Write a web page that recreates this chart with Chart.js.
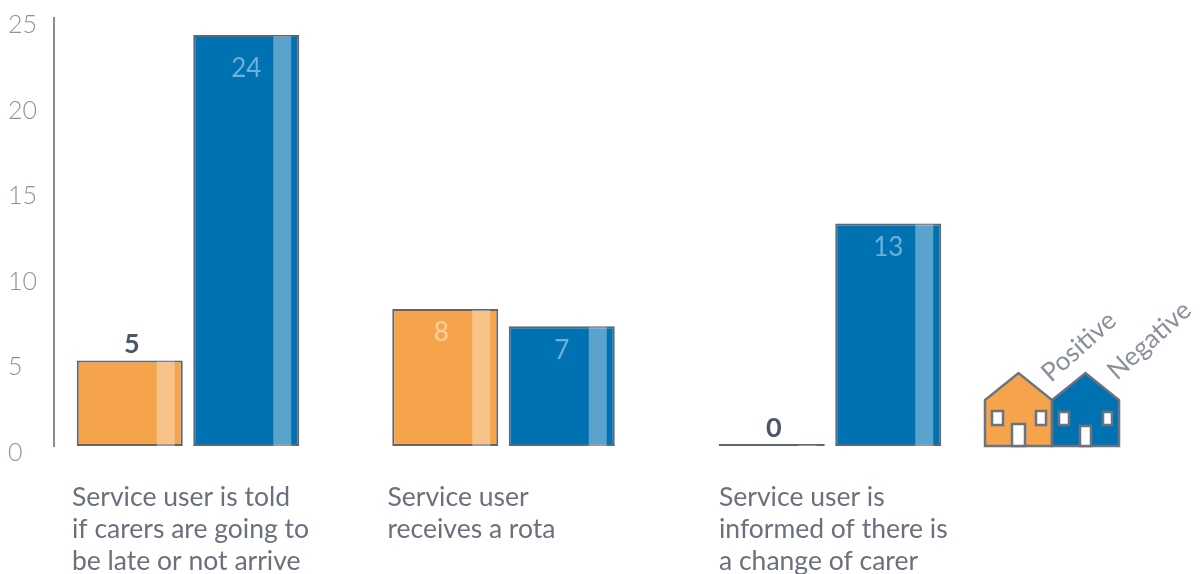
<!DOCTYPE html>
<html>
<head>
<meta charset="utf-8">
<title>Service user communication</title>
<script src="https://cdn.jsdelivr.net/npm/chart.js@4"></script>
<style>
    html, body { margin: 0; padding: 0; background: #fff; }
    #wrap { position: relative; width: 1200px; height: 574px; }
</style>
</head>
<body>
<div id="wrap"><canvas id="grafico"></canvas></div>
<script>
const categorias = [
    ['Service user is told', 'if carers are going to', 'be late or not arrive'],
    ['Service user', 'receives a rota'],
    ['Service user is', 'informed of there is', 'a change of carer']
];
const positivo = [5, 8, 0];
const negativo = [24, 7, 13];
const ticksY = [0, 5, 10, 15, 20, 25];

const LARANJA = '#f5a44b';
const AZUL = '#0072b2';
const CONTORNO = '#5e6675';
const FONTE = 'Lato';

// the groups in the original are not evenly spaced
const deslocGrupo = [-26.5, -32, -26.5];
const deslocTexto = [-5, -5, 0];

class CategoriaAjustada extends Chart.CategoryScale {
    static id = 'categoriaAjustada';
    static defaults = Chart.CategoryScale.defaults;
    getPixelForValue(value, index) {
        return super.getPixelForValue(value, index) + (deslocGrupo[value] || 0);
    }
    getPixelForTick(index) {
        return super.getPixelForTick(index) + deslocTexto[index];
    }
}
Chart.register(CategoriaAjustada);

// light stripe near the right side of each bar
const faixas = {
    id: 'faixas',
    afterDatasetsDraw(chart) {
        const ctx = chart.ctx;
        chart.data.datasets.forEach((ds, d) => {
            chart.getDatasetMeta(d).data.forEach(bar => {
                const esq = bar.x - bar.width / 2;
                ctx.fillStyle = 'rgba(255,255,255,0.35)';
                ctx.fillRect(esq + 80, bar.y + 1, 18, bar.base - bar.y - 1);
            });
        });
    }
};

// value above small bars, inside the bigger ones
const valores = {
    id: 'valores',
    afterDatasetsDraw(chart) {
        const ctx = chart.ctx;
        ctx.save();
        ctx.textAlign = 'center';
        ctx.textBaseline = 'middle';
        const claro = ['#fbd0a0', '#6fb0d8'];
        chart.data.datasets.forEach((ds, d) => {
            chart.getDatasetMeta(d).data.forEach((bar, i) => {
                const v = ds.data[i];
                if (d === 0 && v <= 5) {
                    ctx.font = '700 27px ' + FONTE;
                    ctx.fillStyle = '#4b566b';
                    ctx.fillText(String(v), bar.x + 2, bar.y - 16);
                } else {
                    ctx.font = '400 26px ' + FONTE;
                    ctx.fillStyle = claro[d];
                    ctx.fillText(String(v), bar.x + (d === 0 ? -4 : 0), bar.y + 24 + (v > 20 ? 9 : 0));
                }
            });
        });
        ctx.restore();
    }
};

function desenharCasa(ctx, x, base, cor, janelas, porta) {
    ctx.beginPath();
    ctx.moveTo(x, base);
    ctx.lineTo(x, base - 46);
    ctx.lineTo(x + 33.5, base - 73);
    ctx.lineTo(x + 67, base - 46);
    ctx.lineTo(x + 67, base);
    ctx.closePath();
    ctx.fillStyle = cor;
    ctx.fill();
    ctx.strokeStyle = '#6b7280';
    ctx.lineWidth = 2.5;
    ctx.stroke();
    ctx.fillStyle = '#fff';
    janelas.concat([porta]).forEach(r => {
        ctx.fillRect(x + r[0], base - r[1], r[2], r[3]);
        ctx.strokeRect(x + r[0], base - r[1], r[2], r[3]);
    });
}

// little houses used as legend
const legendaCasas = {
    id: 'legendaCasas',
    afterDraw(chart) {
        const ctx = chart.ctx;
        const base = chart.scales.y.getPixelForValue(0);
        ctx.save();
        desenharCasa(ctx, 985, base, LARANJA, [[7, 35, 11, 14], [51, 35, 10, 14]], [27, 22, 13, 22]);
        desenharCasa(ctx, 1052, base, AZUL, [[7, 34, 10, 13], [51, 34, 9, 13]], [28, 20, 11, 20]);
        ctx.font = '400 26px ' + FONTE;
        ctx.fillStyle = '#8a919b';
        ctx.textAlign = 'left';
        ctx.textBaseline = 'alphabetic';
        [['Positive', 1051, 383], ['Negative', 1117, 381]].forEach(t => {
            ctx.save();
            ctx.translate(t[1], t[2]);
            ctx.rotate(-42 * Math.PI / 180);
            ctx.fillText(t[0], 0, 0);
            ctx.restore();
        });
        ctx.restore();
    }
};

const estiloBarra = {
    borderColor: CONTORNO,
    borderWidth: 2,
    borderSkipped: false,
    minBarLength: 2,
    categoryPercentage: 0.7385,
    barPercentage: 0.91
};

new Chart(document.getElementById('grafico').getContext('2d'), {
    type: 'bar',
    data: {
        labels: categorias,
        datasets: [
            Object.assign({ label: 'Positive', data: positivo, backgroundColor: LARANJA }, estiloBarra),
            Object.assign({ label: 'Negative', data: negativo, backgroundColor: AZUL }, estiloBarra)
        ]
    },
    options: {
        responsive: true,
        maintainAspectRatio: false,
        animation: false,
        layout: { padding: { left: 8, top: 17.5, right: 183, bottom: 0 } },
        plugins: { legend: { display: false }, tooltip: { enabled: false } },
        scales: {
            x: {
                type: 'categoriaAjustada',
                grid: { display: false },
                border: { display: false },
                afterFit(scale) { scale.height = 128; },
                ticks: {
                    align: 'start',
                    labelOffset: -111,
                    maxRotation: 0,
                    autoSkip: false,
                    padding: 27,
                    color: '#6a717c',
                    font: { family: FONTE, size: 26.5, weight: '400', lineHeight: '32px' }
                }
            },
            y: {
                min: 0,
                max: 25,
                grid: { display: false },
                border: { color: '#868c9b', width: 2 },
                afterBuildTicks(scale) { scale.ticks = ticksY.map(v => ({ value: v })); },
                afterFit(scale) { scale.width = 46; },
                ticks: {
                    crossAlign: 'far',
                    labelOffset: 7,
                    color: '#8d939c',
                    font: { family: FONTE, size: 25, weight: '300' }
                }
            }
        }
    },
    plugins: [faixas, valores, legendaCasas]
});
</script>
</body>
</html>
